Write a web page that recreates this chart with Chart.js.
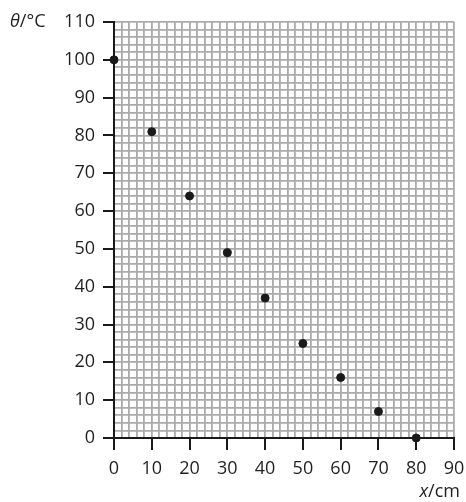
<!DOCTYPE html>
<html>
<head>
<meta charset="utf-8">
<script src="https://cdn.jsdelivr.net/npm/chart.js@4"></script>
<style>
html,body{margin:0;padding:0;background:#fff;}
#wrap{width:466px;height:502px;}
</style>
</head>
<body>
<div id="wrap"><canvas id="c" width="466" height="502"></canvas></div>
<script>
const xValues = [0, 10, 20, 30, 40, 50, 60, 70, 80];
const thetaValues = [100, 81, 64, 49, 37, 25, 16, 7, 0];
const xTicks = [0, 10, 20, 30, 40, 50, 60, 70, 80, 90];
const yTicks = [0, 10, 20, 30, 40, 50, 60, 70, 80, 90, 100, 110];
const xTitle = ['x', '/cm'];
const yTitle = ['θ', '/°C'];

const FONT = '"Open Sans", "DejaVu Sans", sans-serif';
const TEXT = '#231f20';

function noPad(s) { s.paddingLeft = 0; s.paddingRight = 0; s.paddingTop = 0; s.paddingBottom = 0; }

const titlesPlugin = {
  id: 'titles',
  afterDraw(chart) {
    const ctx = chart.ctx;
    const xs = chart.scales.x, ys = chart.scales.y;
    ctx.save();
    ctx.fillStyle = TEXT;
    ctx.textBaseline = 'middle';
    const yTop = ys.getPixelForValue(110);
    ctx.textAlign = 'left';
    ctx.font = 'italic 18px ' + FONT;
    let x0 = 10;
    ctx.fillText(yTitle[0], x0, yTop);
    x0 += ctx.measureText(yTitle[0]).width;
    ctx.font = '18px ' + FONT;
    ctx.fillText(yTitle[1], x0, yTop);
    ctx.font = '18px ' + FONT;
    const w2 = ctx.measureText(xTitle[1]).width;
    const right = xs.right + 6;
    const yb = 492;
    ctx.textAlign = 'right';
    ctx.fillText(xTitle[1], right, yb);
    ctx.font = 'italic 18px ' + FONT;
    ctx.fillText(xTitle[0], right - w2, yb);
    ctx.restore();
  }
};

new Chart(document.getElementById('c'), {
  type: 'scatter',
  data: {
    datasets: [{
      data: xValues.map((x, i) => ({x: x, y: thetaValues[i]})),
      backgroundColor: '#1a1a1a',
      borderColor: '#1a1a1a',
      pointRadius: 4,
      pointHoverRadius: 4,
      clip: false
    }]
  },
  options: {
    responsive: false,
    animation: false,
    events: [],
    layout: {padding: {left: 0, right: 12, top: 22, bottom: 0}},
    plugins: {legend: {display: false}, tooltip: {enabled: false}},
    scales: {
      xg: {
        type: 'linear', position: 'bottom', min: 0, max: 90,
        ticks: {display: false, stepSize: 2},
        grid: {color: '#ababab', lineWidth: 1.8, drawTicks: false},
        border: {display: false},
        afterFit(s) { s.height = 0; noPad(s); }
      },
      x: {
        type: 'linear', position: 'bottom', min: 0, max: 90,
        afterBuildTicks(s) { s.ticks = xTicks.map(v => ({value: v})); },
        ticks: {color: TEXT, font: {family: FONT, size: 18}, padding: 8, maxRotation: 0},
        grid: {drawOnChartArea: false, drawTicks: true, tickLength: 12, color: '#1a1a1a', lineWidth: 2},
        border: {display: true, color: '#1a1a1a', width: 2},
        afterFit(s) { s.height = 64; noPad(s); }
      },
      yg: {
        type: 'linear', position: 'left', min: 0, max: 110,
        ticks: {display: false, stepSize: 2},
        grid: {color: '#ababab', lineWidth: 1.8, drawTicks: false},
        border: {display: false},
        afterFit(s) { s.width = 0; noPad(s); }
      },
      y: {
        type: 'linear', position: 'left', min: 0, max: 110,
        afterBuildTicks(s) { s.ticks = yTicks.map(v => ({value: v})); },
        ticks: {color: TEXT, font: {family: FONT, size: 18}, padding: 8},
        grid: {drawOnChartArea: false, drawTicks: true, tickLength: 11, color: '#1a1a1a', lineWidth: 2},
        border: {display: true, color: '#1a1a1a', width: 2},
        afterFit(s) { s.width = 114; noPad(s); }
      }
    }
  },
  plugins: [titlesPlugin]
});
</script>
</body>
</html>
